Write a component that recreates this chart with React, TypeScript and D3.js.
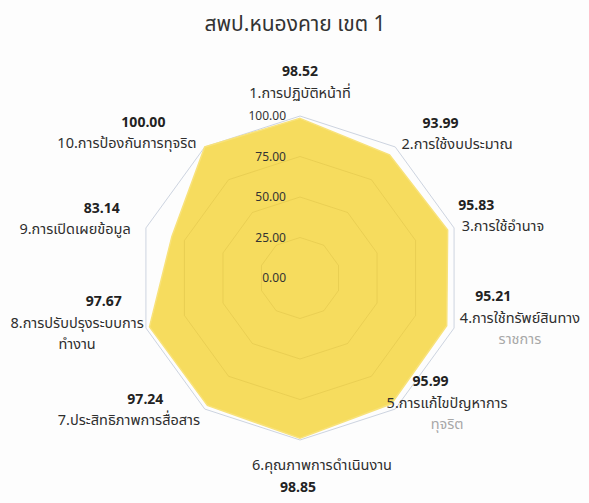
import React, { useEffect, useRef } from "react";
import * as d3 from "d3";

// data
const categories = [
  ["1.การปฏิบัติหน้าที่"],
  ["2.การใช้งบประมาณ"],
  ["3.การใช้อำนาจ"],
  ["4.การใช้ทรัพย์สินทาง", "ราชการ"],
  ["5.การแก้ไขปัญหาการ", "ทุจริต"],
  ["6.คุณภาพการดำเนินงาน"],
  ["7.ประสิทธิภาพการสื่อสาร"],
  ["8.การปรับปรุงระบบการ", "ทำงาน"],
  ["9.การเปิดเผยข้อมูล"],
  ["10.การป้องกันการทุจริต"],
];
const scores = [98.52, 93.99, 95.83, 95.21, 95.99, 98.85, 97.24, 97.67, 83.14, 100.0];
const radialTicks = [0, 25, 50, 75, 100];
const title = "สพป.หนองคาย เขต 1";

// label block nudges (px) from the polar anchor
const labelNudge: [number, number][] = [
  [0, 10],
  [36, 22],
  [7, 1],
  [24, -24],
  [26, -42],
  [22, -8],
  [-50, -35],
  [-27, -19],
  [-29, 4],
  [-52, 21],
];

const W = 589;
const H = 503;
const cx = 300;
const cy = 278;
const R = 162;
const FONT = "'Noto Sans Thai', 'Leelawadee UI', Tahoma, 'DejaVu Sans', sans-serif";

const RadarChart: React.FC = () => {
  const svgRef = useRef<SVGSVGElement | null>(null);

  useEffect(() => {
    const svg = d3.select(svgRef.current);
    svg.selectAll("*").remove();

    const n = categories.length;
    const angle = d3
      .scaleLinear()
      .domain([0, n])
      .range([0, 2 * Math.PI]);
    const r = d3.scaleLinear().domain([0, 100]).range([0, R]);

    const g = svg.append("g").attr("transform", `translate(${cx},${cy})`);

    const ringLine = d3
      .lineRadial<number>()
      .angle((_, i) => angle(i))
      .radius((d) => r(d))
      .curve(d3.curveLinearClosed);

    // outer ring under the fill
    g.append("path")
      .attr("d", ringLine(d3.range(n).map(() => 100)))
      .attr("fill", "none")
      .attr("stroke", "#cdd4e0")
      .attr("stroke-width", 1);

    // series area
    g.append("path")
      .attr("d", ringLine(scores))
      .attr("fill", "#f6da55")
      .attr("fill-opacity", 0.95)
      .attr("stroke", "#f8e27a")
      .attr("stroke-width", 1.5);

    // grid rings seen through the fill
    radialTicks
      .filter((t) => t > 0 && t < 100)
      .forEach((t) => {
        g.append("path")
          .attr("d", ringLine(d3.range(n).map(() => t)))
          .attr("fill", "none")
          .attr("stroke", "#b89a2a")
          .attr("stroke-opacity", 0.2)
          .attr("stroke-width", 1);
      });

    // radial axis labels
    g.selectAll(".tick")
      .data(radialTicks)
      .join("text")
      .attr("class", "tick")
      .attr("x", -14)
      .attr("y", (d) => -r(d))
      .attr("dy", "0.35em")
      .attr("text-anchor", "end")
      .attr("font-family", FONT)
      .attr("font-size", 12)
      .attr("fill", "#333")
      .text((d) => d3.format(".2f")(d));

    // data labels: value + category name
    const lineGap = 21.5;
    categories.forEach((lines, i) => {
      const a = angle(i);
      const base = r(100) + 44;
      const bx = Math.sin(a) * base + labelNudge[i][0];
      const by = -Math.cos(a) * base + labelNudge[i][1];
      const valueText = d3.format(".2f")(scores[i]);
      const bottom = i === 5;
      const rows = bottom
        ? [...lines.map((t) => ({ t, v: false })), { t: valueText, v: true }]
        : [{ t: valueText, v: true }, ...lines.map((t) => ({ t, v: false }))];
      const faded = i === 3 || i === 4;
      rows.forEach((row, k) => {
        const y = by + (k - (rows.length - 1) / 2) * lineGap;
        const x = row.v ? bx - Math.sin(a) * 28 - (bottom ? 24 : 0) : bx;
        g.append("text")
          .attr("x", x)
          .attr("y", y)
          .attr("dy", "0.35em")
          .attr("text-anchor", "middle")
          .attr("font-family", FONT)
          .attr("font-size", row.v ? 14 : 14.5)
          .attr("font-weight", row.v ? 700 : 400)
          .attr("fill", row.v ? "#222" : faded && k > 1 ? "#a8a8a8" : "#2e2e2e")
          .text(row.t);
      });
    });

    svg
      .append("text")
      .attr("x", 295)
      .attr("y", 24)
      .attr("dy", "0.35em")
      .attr("text-anchor", "middle")
      .attr("font-family", FONT)
      .attr("font-size", 21)
      .attr("fill", "#333")
      .text(title);
  }, []);

  return (
    <svg
      ref={svgRef}
      width={W}
      height={H}
      style={{ position: "absolute", left: 0, top: 0, background: "#fdfdfd" }}
    />
  );
};

export default function App() {
  return <RadarChart />;
}
